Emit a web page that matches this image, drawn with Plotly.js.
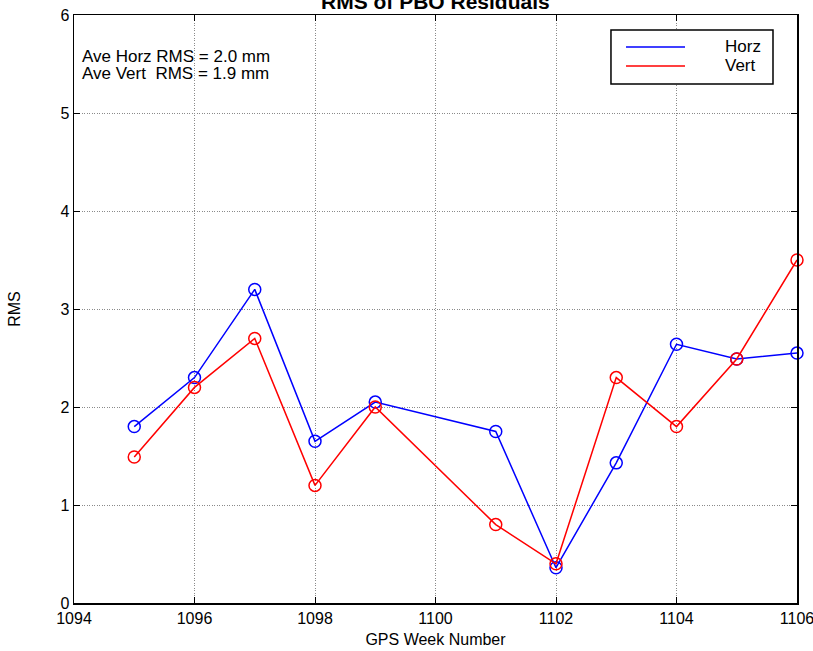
<!DOCTYPE html>
<html>
<head>
<meta charset="utf-8">
<script src="https://cdn.plot.ly/plotly-3.0.1.min.js"></script>
<style>html,body{margin:0;padding:0;background:#fff;}#chart{width:813px;height:651px;}</style>
</head>
<body>
<div id="chart"></div>
<script>
// GPS weeks
const weeks = [1095, 1096, 1097, 1098, 1099, 1101, 1102, 1103, 1104, 1105, 1106];
// Horizontal RMS (mm)
const horzRMS = [1.80, 2.30, 3.20, 1.65, 2.05, 1.75, 0.36, 1.43, 2.64, 2.49, 2.55];
// Vertical RMS (mm)
const vertRMS = [1.49, 2.20, 2.70, 1.20, 2.00, 0.80, 0.40, 2.30, 1.80, 2.49, 3.50];
const seriesNames = ["Horz", "Vert"];
const seriesColors = ["#0000ff", "#ff0000"];
const xTicks = [1094, 1096, 1098, 1100, 1102, 1104, 1106];
const yTicks = [0, 1, 2, 3, 4, 5, 6];
const noteLines = ["Ave Horz RMS = 2.0 mm", "Ave Vert&nbsp;&nbsp;RMS = 1.9 mm"];

const FONT = "Liberation Sans, Arial, Helvetica, sans-serif";

const traces = [horzRMS, vertRMS].map((vals, i) => ({
  x: weeks, y: vals, type: "scatter", mode: "lines+markers",
  name: seriesNames[i], showlegend: false, cliponaxis: false,
  line: {color: seriesColors[i], width: 1.5},
  marker: {symbol: "circle-open", size: 12, color: seriesColors[i], line: {width: 1.5}}
}));

// legend box (manual, MATLAB style)
const lgX0 = 0.7427, lgX1 = 0.9668, lgY0 = 0.8827, lgY1 = 0.9745;
const lgLineX0 = 0.7635, lgLineX1 = 0.8451, lgRowY = [0.9456, 0.9133], lgTextX = 0.8976;

const shapes = [
  {type: "rect", xref: "paper", yref: "paper", x0: lgX0, x1: lgX1, y0: lgY0, y1: lgY1,
   line: {color: "#000", width: 1.5}, fillcolor: "#fff", layer: "above"}
];
const annotations = [];
seriesNames.forEach((n, i) => {
  shapes.push({type: "line", xref: "paper", yref: "paper", x0: lgLineX0, x1: lgLineX1,
    y0: lgRowY[i], y1: lgRowY[i], line: {color: seriesColors[i], width: 1.5}, layer: "above"});
  annotations.push({xref: "paper", yref: "paper", x: lgTextX, y: lgRowY[i], xanchor: "left",
    yanchor: "middle", text: n, showarrow: false, font: {family: FONT, size: 17, color: "#000"}});
});
const noteY = [0.929, 0.900];
noteLines.forEach((t, i) => {
  annotations.push({xref: "paper", yref: "paper", x: 0.0083, y: noteY[i], xanchor: "left",
    yanchor: "middle", text: t, showarrow: false, font: {family: FONT, size: 17, color: "#000"}});
});

const axisCommon = {
  showline: true, linecolor: "#000", linewidth: 1.5, mirror: "allticks",
  ticks: "inside", ticklen: 6, tickwidth: 1, tickcolor: "#000",
  showgrid: true, gridcolor: "#8a8a8a", griddash: "1px,1.5px", gridwidth: 1,
  zeroline: false, ticklabeloverflow: "allow",
  tickfont: {family: FONT, size: 16, color: "#000"}
};

const layout = {
  width: 813, height: 651,
  margin: {l: 74, r: 16, t: 15, b: 48},
  paper_bgcolor: "#fff", plot_bgcolor: "#fff",
  title: {text: "<b>RMS of PBO Residuals</b>", font: {family: FONT, size: 21, color: "#000"},
          x: 0.5355, xanchor: "center", y: 0.997, yref: "container", yanchor: "middle"},
  xaxis: Object.assign({}, axisCommon, {range: [1094, 1106], tickvals: xTicks, ticktext: xTicks.map(String),
    title: {text: "GPS Week Number", font: {family: FONT, size: 16, color: "#000"}, standoff: 8}}),
  yaxis: Object.assign({}, axisCommon, {range: [0, 6], tickvals: yTicks, ticktext: yTicks.map(String),
    title: {text: "RMS", font: {family: FONT, size: 16, color: "#000"}, standoff: 36}}),
  shapes: shapes, annotations: annotations, showlegend: false
};

Plotly.newPlot("chart", traces, layout, {staticPlot: true, displayModeBar: false});
</script>
</body>
</html>
